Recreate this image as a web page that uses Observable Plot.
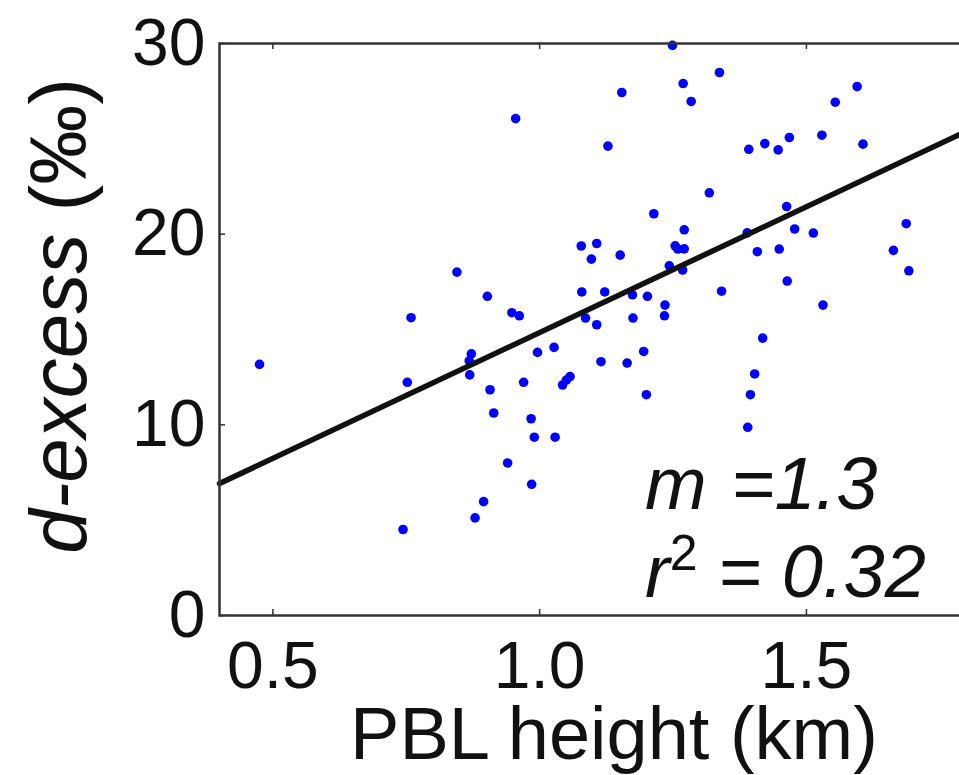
<!DOCTYPE html>
<html><head><meta charset="utf-8">
<script src="https://cdn.jsdelivr.net/npm/d3@7"></script>
<script src="https://cdn.jsdelivr.net/npm/@observablehq/plot@0.6"></script>
<style>
html,body{margin:0;padding:0;background:#fff;overflow:hidden;}
</style></head><body><div id="chart"></div>
<script>
// PBL height (km)
const pblHeight = [1.249,1.269,1.284,1.154,0.955,1.128,1.214,1.271,1.337,1.595,
  1.554,1.392,1.422,1.447,1.468,1.529,1.606,1.318,1.463,1.389,
  1.478,1.513,1.687,1.271,1.408,1.449,1.663,1.692,1.268,1.341,
  1.464,1.531,1.418,1.403,1.395,1.390,1.078,1.107,1.097,1.151,
  1.254,1.259,1.243,0.845,0.902,1.079,1.122,1.174,1.202,1.235,
  1.234,0.948,0.962,1.086,1.107,1.175,0.872,0.868,0.869,0.996,
  1.027,1.115,1.164,1.195,0.907,0.970,1.043,1.050,1.057,1.200,
  0.914,0.984,0.990,1.029,0.940,0.985,0.895,0.879,0.759,0.752,0.475,0.744];
// d-excess (‰)
const dExcess = [29.9,27.9,26.96,27.43,26.06,24.62,21.07,20.23,28.48,27.74,
  26.92,24.45,24.75,24.42,25.07,25.19,24.72,22.17,21.45,20.07,
  20.27,20.06,20.55,19.23,19.08,19.22,19.15,18.08,18.12,17.01,
  17.54,16.28,14.55,12.67,11.58,9.87,19.38,19.51,18.69,18.9,
  19.39,19.22,18.34,18.01,16.74,16.97,16.97,16.82,16.74,16.28,
  15.72,15.88,15.72,15.6,15.25,15.6,13.72,13.36,12.62,13.8,
  14.06,13.31,13.24,13.85,11.84,12.23,12.09,12.35,12.53,11.58,
  10.62,10.32,9.35,9.35,8.0,6.88,5.97,5.12,15.62,12.23,13.17,4.51];
const xTicks = [0.5, 1.0, 1.5];
const yTicks = [0, 10, 20, 30];
const xDomain = [0.4, 1.8];
const yDomain = [0, 30];
// fitted line (d-excess per km)
const fitSlope = 13.2;
const fitIntercept = 1.64;
const slopeLabel = "1.3";
const r2Label = "0.32";
const xLabel = "PBL height (km)";

const W = 959, H = 775, mL = 219, mR = -7, mT = 43, mB = 160;
const frameH = H - mT - mB, frameW = W - mL - mR;
const font = "'Liberation Sans', Arial, Helvetica, sans-serif";

const points = pblHeight.map((x, i) => ({x, y: dExcess[i]}));
const fitLine = xDomain.map(x => ({x, y: fitIntercept + fitSlope * x}));
const tickStyle = {stroke: "#333", strokeWidth: 1.5};

const plot = Plot.plot({
  width: W, height: H,
  marginLeft: mL, marginRight: mR, marginTop: mT, marginBottom: mB,
  style: {fontFamily: font, background: "#fff", color: "#111"},
  x: {domain: xDomain, label: null},
  y: {domain: yDomain, label: null},
  marks: [
    Plot.dot(points, {x: "x", y: "y", r: 4.8, fill: "#0000ff", stroke: "none"}),
    Plot.line(fitLine, {x: "x", y: "y", stroke: "#111", strokeWidth: 5.5}),
    Plot.frame({stroke: "#333", strokeWidth: 2.5}),
    Plot.tickX(xTicks, {x: d => d, insetTop: frameH - 6, ...tickStyle}),
    Plot.tickX(xTicks, {x: d => d, insetBottom: frameH - 6, ...tickStyle}),
    Plot.tickY(yTicks, {y: d => d, insetRight: frameW - 6, ...tickStyle}),
    Plot.tickY(yTicks, {y: d => d, insetLeft: frameW - 6, ...tickStyle}),
    Plot.axisX(xTicks, {tickSize: 0, tickPadding: 26, tickFormat: d3.format(".1f"), fontSize: 66, label: null, fill: "#111"}),
    Plot.axisY(yTicks, {tickSize: 0, tickPadding: 14, fontSize: 66, label: null, fill: "#111"})
  ]
});

const svg = d3.select(plot);
svg.append("text")
  .attr("x", 614).attr("y", 759)
  .attr("text-anchor", "middle")
  .attr("font-family", font).attr("font-size", 74).attr("fill", "#111")
  .text(xLabel);

const yl = svg.append("text")
  .attr("transform", "translate(86,316) rotate(-90)")
  .attr("text-anchor", "middle")
  .attr("font-family", font).attr("font-size", 80).attr("fill", "#111");
yl.append("tspan").attr("font-style", "italic").text("d-excess");
yl.append("tspan").text(" (‰)");

const a1 = svg.append("text")
  .attr("x", 645).attr("y", 509)
  .attr("text-anchor", "start")
  .attr("font-family", font).attr("font-size", 74).attr("font-style", "italic").attr("fill", "#111");
a1.append("tspan").text("m ");
a1.append("tspan").attr("dx", 4).text("=" + slopeLabel);

const a2 = svg.append("text")
  .attr("x", 645).attr("y", 597)
  .attr("text-anchor", "start")
  .attr("font-family", font).attr("font-size", 74).attr("font-style", "italic").attr("fill", "#111");
a2.append("tspan").text("r");
a2.append("tspan").attr("font-size", 50).attr("dy", -27).attr("font-style", "normal").text("2");
a2.append("tspan").attr("dy", 27).text(" = " + r2Label);

document.getElementById("chart").appendChild(plot);
</script>
</body></html>
